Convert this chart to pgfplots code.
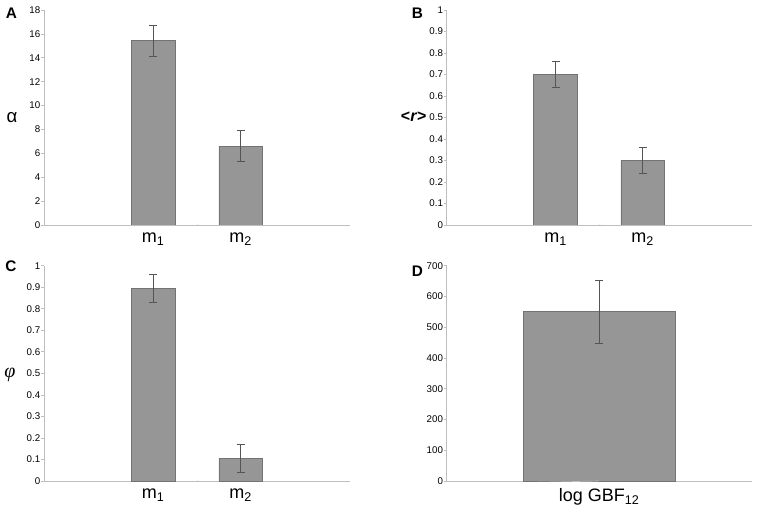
\documentclass[border=0pt]{standalone}
\usepackage{fontspec}
\setmainfont{Liberation Sans}
\newfontfamily\serifit{Liberation Serif}
\usepackage{pgfplots}
\pgfplotsset{compat=1.18}
\definecolor{barfill}{RGB}{150,150,150}
\definecolor{baredge}{RGB}{115,115,115}
\definecolor{axgray}{RGB}{190,190,190}
\definecolor{errgray}{RGB}{85,85,85}
\pgfplotsset{panel/.style={
  scale only axis, anchor=south west,
  axis lines*=left,
  axis line style={axgray, line width=0.6pt},
  ymin=0,
  tick align=outside,
  major tick length=2pt,
  ytick style={axgray, line width=0.5pt},
  xtick style={draw=none},
  yticklabel style={font=\fontsize{7.3}{8}\selectfont, inner sep=0.6pt},
  xticklabel style={font=\fontsize{13.5}{15}\selectfont, inner sep=1pt, yshift=-2.5pt},
  /pgf/number format/assume math mode=true,
  ybar, bar width=0.5,
},
barstyle/.style={fill=barfill, draw=baredge, line width=0.5pt,
    error bars/.cd, y dir=both, y explicit,
    error bar style={errgray, line width=0.4pt},
    error mark options={errgray, mark size=3pt, line width=0.4pt, rotate=90}},
}
\begin{document}
\begin{tikzpicture}
\useasboundingbox (0,0) rectangle (568.5pt,381pt);
% Panel A
\begin{axis}[panel, at={(33pt,212.25pt)}, width=229.5pt, height=161.25pt,
  xmin=-0.25, xmax=3.25, ymax=18, ytick={0,2,...,18},
  xtick={1,2}, xticklabels={m\textsubscript{1}, m\textsubscript{2}}]
\addplot[barstyle] coordinates {(1,15.45) +- (0,1.3) (2,6.6) +- (0,1.3)};
\draw[axgray, line width=0.5pt] (axis cs:1.5,0) -- ++(0,-2.5pt);
\end{axis}
% Panel B
\begin{axis}[panel, at={(335pt,212.25pt)}, width=228.75pt, height=161.25pt,
  xmin=-0.25, xmax=3.25, ymax=1, ytick={0,0.1,...,1.01},
  xtick={1,2}, xticklabels={m\textsubscript{1}, m\textsubscript{2}}]
\addplot[barstyle] coordinates {(1,0.70) +- (0,0.06) (2,0.30) +- (0,0.06)};
\draw[axgray, line width=0.5pt] (axis cs:1.5,0) -- ++(0,-2.5pt);
\end{axis}
% Panel C
\begin{axis}[panel, at={(33pt,20.25pt)}, width=229.5pt, height=161.5pt,
  xmin=-0.25, xmax=3.25, ymax=1, ytick={0,0.1,...,1.01},
  xtick={1,2}, xticklabels={m\textsubscript{1}, m\textsubscript{2}}]
\addplot[barstyle] coordinates {(1,0.895) +- (0,0.066) (2,0.105) +- (0,0.066)};
\draw[axgray, line width=0.5pt] (axis cs:1.5,0) -- ++(0,-2.5pt);
\end{axis}
% Panel D
\begin{axis}[panel, at={(335pt,20.25pt)}, width=228.75pt, height=161.5pt,
  xmin=0.5, xmax=1.5, ymax=700, ytick={0,100,...,700},
  xtick={1}, xticklabels={log GBF\textsubscript{12}}]
\addplot[barstyle] coordinates {(1,550) +- (0,103)};
\draw[axgray, line width=0.5pt] (axis cs:1,0) -- ++(0,-2.5pt);
\end{axis}
% Labels
\node[font=\fontsize{14}{16}\selectfont] at (9pt,292.5pt) {α};
\node[font=\bfseries\fontsize{12}{14}\selectfont] at (310.3pt,293.25pt) {<\textit{r}>};
\node[font=\serifit\itshape\fontsize{15}{17}\selectfont] at (7.5pt,99.75pt) {φ};
\node[font=\bfseries\fontsize{11.5}{13}\selectfont] at (8.6pt,370.9pt) {A};
\node[font=\bfseries\fontsize{11.5}{13}\selectfont] at (313.1pt,370.9pt) {B};
\node[font=\bfseries\fontsize{11.5}{13}\selectfont] at (8.25pt,181.1pt) {C};
\node[font=\bfseries\fontsize{11.5}{13}\selectfont] at (313.1pt,177.4pt) {D};
\end{tikzpicture}
\end{document}
